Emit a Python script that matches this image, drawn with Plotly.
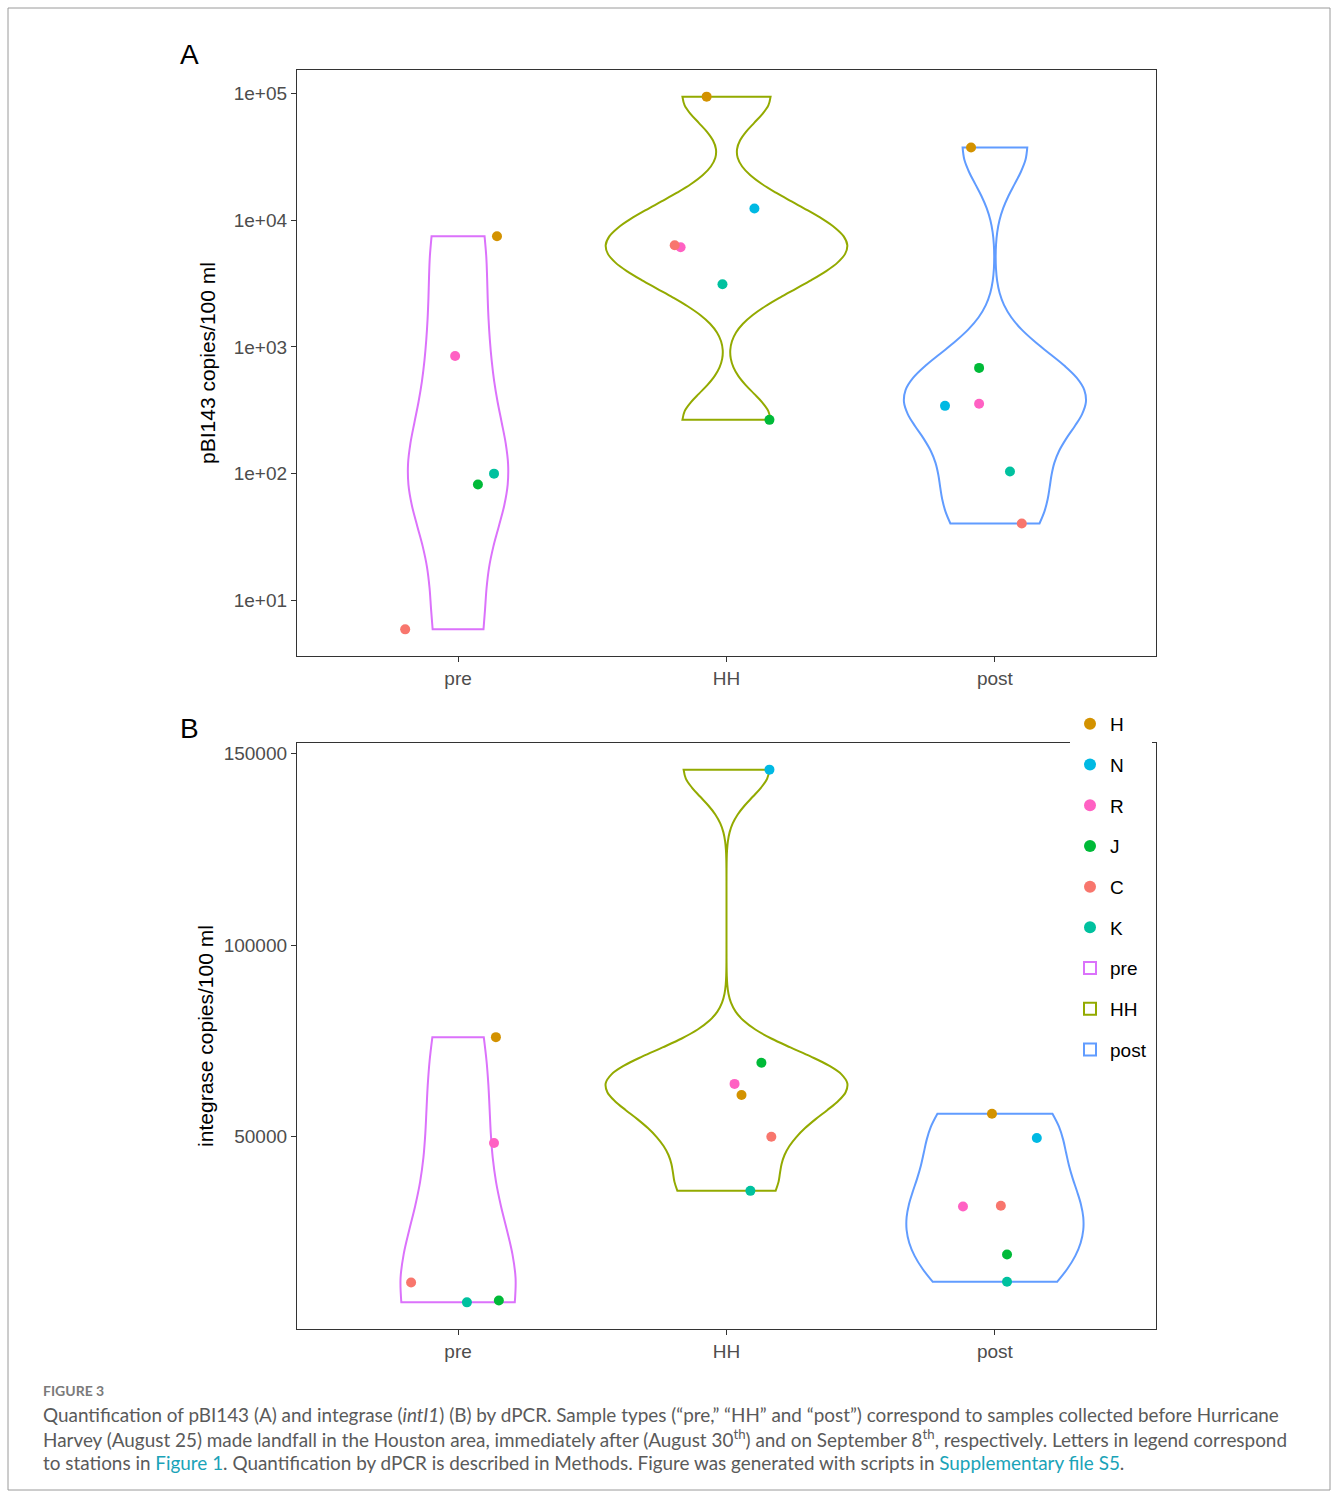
import numpy as np
import plotly.graph_objects as go

W, H = 1333, 1495

groups = ["pre", "HH", "post"]
stations = ["H", "N", "R", "J", "C", "K"]

station_colors = {"H": "#D39200", "N": "#00B9E3", "R": "#FF61C3",
                  "J": "#00BA38", "C": "#F8766D", "K": "#00C19F"}
group_colors = {"pre": "#DB72FB", "HH": "#93AA00", "post": "#619CFF"}

# ---- Panel A: pBI143 copies/100 ml ----
a_pre_st = ["H", "R", "K", "J", "C"]
a_pre_val = [7480, 850, 100, 82, 5.9]
a_hh_st = ["H", "N", "C", "R", "K", "J"]
a_hh_val = [94700, 12400, 6350, 6130, 3130, 266]
a_post_st = ["H", "J", "R", "N", "K", "C"]
a_post_val = [37600, 684, 356, 343, 104, 40.4]

# ---- Panel B: integrase copies/100 ml ----
b_pre_st = ["H", "R", "C", "J", "K"]
b_pre_val = [76000, 48400, 12000, 7300, 6800]
b_hh_st = ["N", "J", "R", "H", "C", "K"]
b_hh_val = [145800, 69300, 63800, 60900, 50000, 35900]
b_post_st = ["H", "N", "R", "C", "J", "K"]
b_post_val = [56000, 49700, 31800, 32000, 19300, 12200]

# horizontal jitter of the points (category units)
a_pre_jit = [0.145, -0.011, 0.134, 0.074, -0.197]
a_hh_jit = [-0.074, 0.104, -0.193, -0.171, -0.015, 0.160]
a_post_jit = [-0.089, -0.059, -0.059, -0.186, 0.056, 0.100]
b_pre_jit = [0.141, 0.134, -0.175, 0.152, 0.033]
b_hh_jit = [0.160, 0.130, 0.030, 0.056, 0.167, 0.089]
b_post_jit = [-0.011, 0.156, -0.119, 0.022, 0.045, 0.045]

A_ticks = [10, 100, 1000, 10000, 100000]
A_ticktext = ["1e+01", "1e+02", "1e+03", "1e+04", "1e+05"]
B_ticks = [50000, 100000, 150000]
B_ticktext = ["50000", "100000", "150000"]


def nrd0(x):
    x = np.asarray(x, dtype=float)
    hi = np.std(x, ddof=1)
    q75, q25 = np.percentile(x, [75, 25])
    lo = min(hi, (q75 - q25) / 1.34)
    if lo == 0:
        lo = hi if hi else (abs(x[0]) if x[0] else 1.0)
    return 0.9 * lo * len(x) ** -0.2


def kde_max(x, bw):
    x = np.asarray(x, dtype=float)
    grid = np.linspace(x.min(), x.max(), 512)
    d = np.exp(-0.5 * ((grid[:, None] - x[None, :]) / bw) ** 2).sum(axis=1)
    d /= (len(x) * bw * np.sqrt(2 * np.pi))
    return d.max()


def px_x(x):
    return x / W


def px_y(y):
    return 1 - y / H


FONT = "Liberation Sans Narrow, Liberation Sans, Arial, sans-serif"
CAP_FONT = "Lato, Open Sans, sans-serif"

fig = go.Figure()

panels = [
    ("A", "x", "y", True,
     [(a_pre_st, a_pre_val, a_pre_jit), (a_hh_st, a_hh_val, a_hh_jit),
      (a_post_st, a_post_val, a_post_jit)]),
    ("B", "x2", "y2", False,
     [(b_pre_st, b_pre_val, b_pre_jit), (b_hh_st, b_hh_val, b_hh_jit),
      (b_post_st, b_post_val, b_post_jit)]),
]

yranges = {}
for pname, xa, ya, is_log, data in panels:
    tf = (lambda v: np.log10(np.asarray(v, dtype=float))) if is_log else (lambda v: np.asarray(v, dtype=float))
    allv = np.concatenate([tf(d[1]) for d in data])
    lo, hi = allv.min(), allv.max()
    pad = 0.05 * (hi - lo)
    yranges[pname] = [lo - pad, hi + pad]
    show = (pname == "A")
    # points by station
    for s in stations:
        xs, ys = [], []
        for gi, (st, vals, jit) in enumerate(data):
            for k, sname in enumerate(st):
                if sname == s:
                    xs.append(gi + jit[k])
                    ys.append(tf([vals[k]])[0])
        fig.add_trace(go.Scatter(
            x=xs, y=ys, mode="markers", name=s, legendgroup=s, showlegend=show,
            marker=dict(color=station_colors[s], size=10, line=dict(width=0)),
            xaxis=xa, yaxis=ya, hoverinfo="skip"))
    # violins, scaled like ggplot's scale = "area"
    bws = [nrd0(tf(d[1])) for d in data]
    maxd = [kde_max(tf(d[1]), bw) for d, bw in zip(data, bws)]
    top = max(maxd)
    for gi, (st, vals, jit) in enumerate(data):
        g = groups[gi]
        yv = tf(vals)
        fig.add_trace(go.Violin(
            x=[gi] * len(yv), y=yv, name=g, legendgroup=g, showlegend=show,
            width=0.9 * maxd[gi] / top, spanmode="hard", bandwidth=bws[gi],
            scalegroup=pname + g, scalemode="width",
            line=dict(color=group_colors[g], width=2),
            fillcolor="rgba(255,255,255,0)", points=False,
            box_visible=False, meanline_visible=False,
            xaxis=xa, yaxis=ya, hoverinfo="skip"))

xdom = [px_x(297), px_x(1156)]
axis_common = dict(showgrid=False, zeroline=False, showline=True, mirror=True,
                   linecolor="#333333", linewidth=1.3, ticks="outside",
                   ticklen=5, tickwidth=1.3, tickcolor="#333333",
                   tickfont=dict(family=FONT, size=19, color="#4D4D4D"))

fig.update_layout(
    width=W, height=H, template="none",
    paper_bgcolor="white", plot_bgcolor="white",
    margin=dict(l=0, r=0, t=0, b=0),
    violinmode="overlay",
    showlegend=True,
    xaxis=dict(domain=xdom, range=[-0.6, 2.6], anchor="y",
               tickvals=[0, 1, 2], ticktext=groups, **axis_common),
    yaxis=dict(domain=[px_y(656), px_y(70)], range=yranges["A"], anchor="x",
               tickvals=list(np.log10(A_ticks)), ticktext=A_ticktext,
               title=dict(text="pBI143 copies/100 ml",
                          font=dict(family=FONT, size=21, color="black"),
                          standoff=12),
               **axis_common),
    xaxis2=dict(domain=xdom, range=[-0.6, 2.6], anchor="y2",
                tickvals=[0, 1, 2], ticktext=groups, **axis_common),
    yaxis2=dict(domain=[px_y(1329), px_y(743)], range=yranges["B"], anchor="x2",
                tickvals=B_ticks, ticktext=B_ticktext,
                title=dict(text="integrase copies/100 ml",
                           font=dict(family=FONT, size=21, color="black"),
                           standoff=4),
                **axis_common),
    legend=dict(x=px_x(1070), y=px_y(705), xanchor="left", yanchor="top",
                bgcolor="white", borderwidth=0, traceorder="grouped",
                tracegroupgap=13, itemsizing="constant", entrywidth=100,
                font=dict(family=FONT, size=19, color="black")),
    font=dict(family=FONT),
)

# panel letters
fig.add_annotation(text="A", x=px_x(189), y=px_y(55), xref="paper", yref="paper",
                   xanchor="center", yanchor="middle",
                   showarrow=False, font=dict(family=FONT, size=28, color="black"))
fig.add_annotation(text="B", x=px_x(189), y=px_y(728), xref="paper", yref="paper",
                   xanchor="center", yanchor="middle",
                   showarrow=False, font=dict(family=FONT, size=28, color="black"))

# caption
cap_col = "#5a5a5a"
link = "#1AA3B8"
fig.add_annotation(text="<b>FIGURE 3</b>", x=px_x(41), y=px_y(1390), xref="paper", yref="paper",
                   xanchor="left", yanchor="middle", showarrow=False,
                   font=dict(family=CAP_FONT, size=14, color="#7a7a7a"))
cap_lines = [
    "Quantification of pBI143 (A) and integrase (<i>intI1</i>) (B) by dPCR. Sample types (\u201cpre,\u201d \u201cHH\u201d and \u201cpost\u201d) correspond to samples collected before Hurricane",
    "Harvey (August 25) made landfall in the Houston area, immediately after (August 30<sup>th</sup>) and on September 8<sup>th</sup>, respectively. Letters in legend correspond",
    "to stations in <span style='color:%s'>Figure 1</span>. Quantification by dPCR is described in Methods. Figure was generated with scripts in <span style='color:%s'>Supplementary file S5</span>." % (link, link),
]
for i, t in enumerate(cap_lines):
    fig.add_annotation(text=t, x=px_x(41), y=px_y(1414 + 24 * i), xref="paper", yref="paper",
                       xanchor="left", yanchor="middle", showarrow=False,
                       font=dict(family=CAP_FONT, size=18.9, color=cap_col))

# outer frame of the figure
fig.add_shape(type="rect", xref="paper", yref="paper",
              x0=px_x(8), x1=px_x(1330), y0=px_y(1490), y1=px_y(8),
              line=dict(color="#9a9a9a", width=1), layer="below")

fig.write_html("out.html", config=dict(displayModeBar=False),
               post_script="document.body.style.margin='0';")
